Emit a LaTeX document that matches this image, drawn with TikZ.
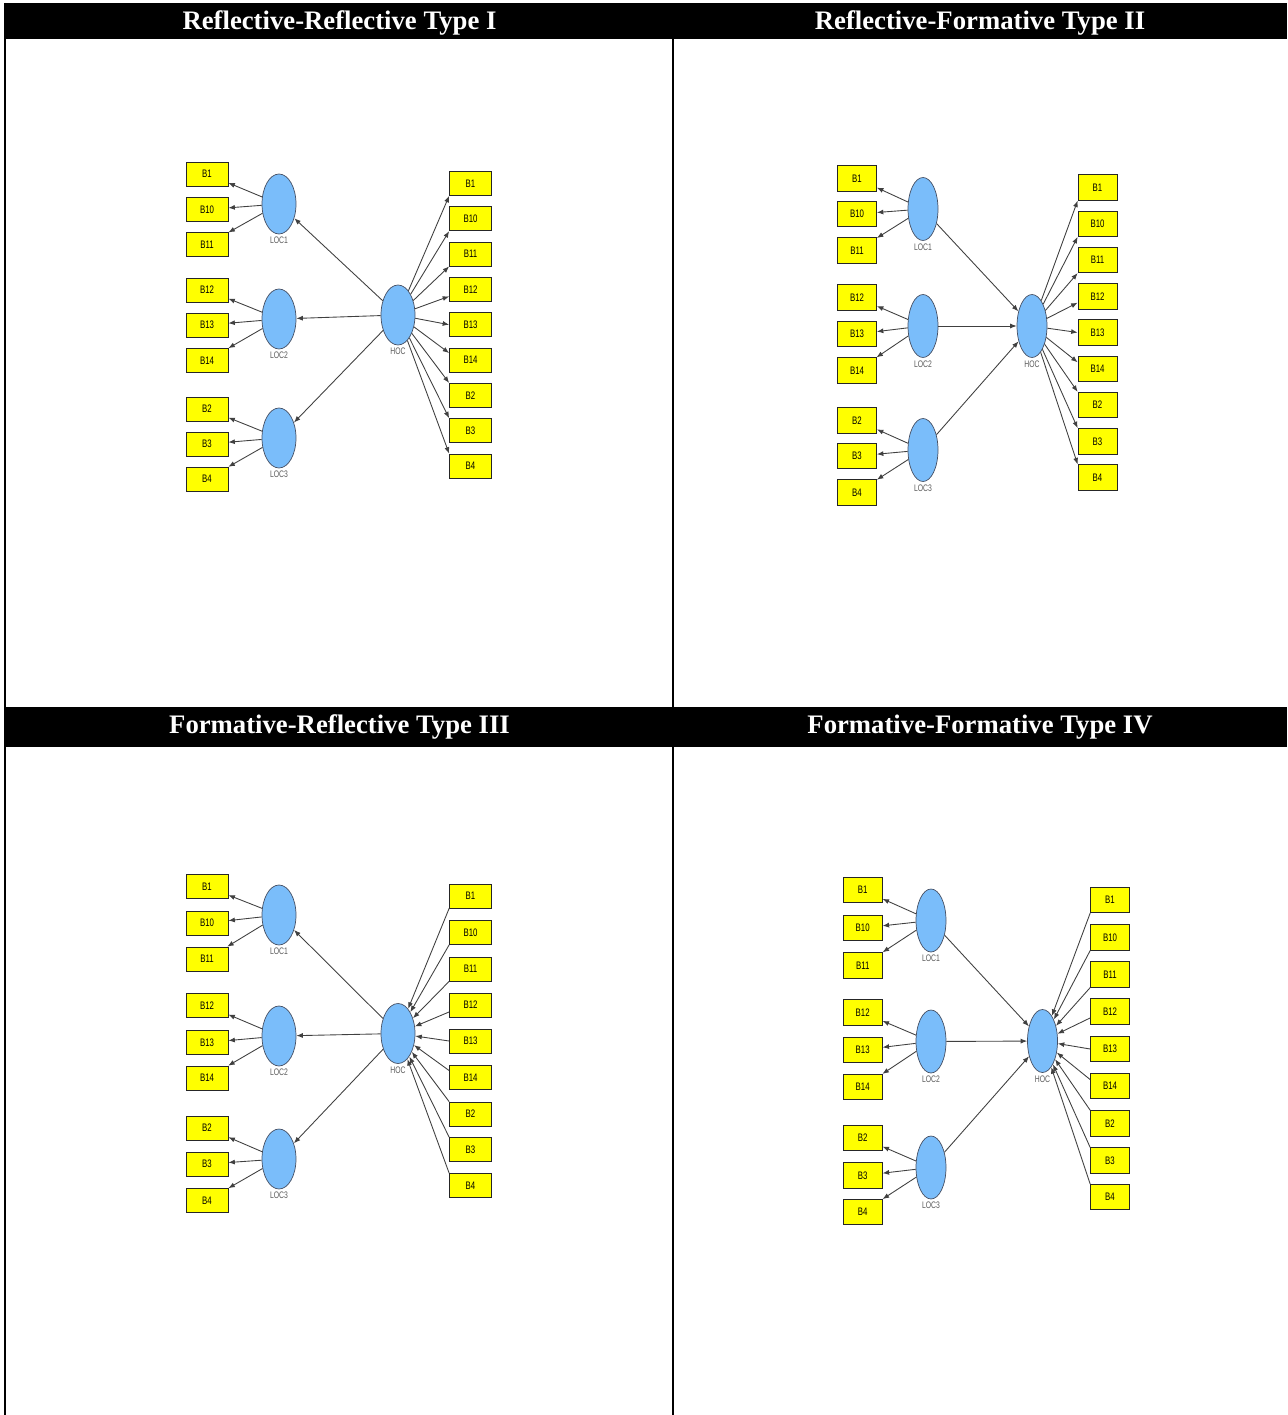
\documentclass[tikz,border=0pt]{standalone}
\usepackage{fontspec}
\setmainfont{Liberation Serif}
\newfontfamily\narrowsans[FakeStretch=0.72]{Liberation Sans}
\usepackage{xcolor}
\usetikzlibrary{arrows.meta,shapes.geometric,positioning}

\definecolor{indyellow}{RGB}{255,255,0}
\definecolor{lvblue}{RGB}{122,189,250}
\definecolor{lvedge}{RGB}{70,80,100}

\begin{document}
\begin{tikzpicture}[x=0.02cm,y=-0.02cm,>={Latex[length=1.3mm,width=1mm]},
  ttl/.style={text=white,font=\fontsize{15.2}{18}\selectfont\bfseries},
  ind/.style={draw=black!85,fill=indyellow,minimum width=0.84cm,minimum height=0.48cm,inner sep=0pt,font=\narrowsans\fontsize{6.2}{7}\selectfont},
  indb/.style={ind,minimum width=0.78cm,minimum height=0.51cm},
  lv/.style={ellipse,draw=lvedge,fill=lvblue,minimum width=0.68cm,minimum height=1.2cm,inner sep=0pt},
  lvb/.style={lv,minimum width=0.6cm,minimum height=1.26cm},
  lbl/.style={text=black!65,inner sep=1.5pt,font=\narrowsans\fontsize{5.4}{6}\selectfont},
  link/.style={->,draw=black!75,line width=0.5pt}]
  \useasboundingbox (0,0) rectangle (1287,1415);

  % frame and header bars
  \fill (4,3) rectangle (1287,39);
  \fill (4,707) rectangle (1287,747);
  \draw[line width=1.15pt] (5,3) -- (5,1415);
  \draw[line width=1.15pt] (673,39) -- (673,707);
  \draw[line width=1.15pt] (673,747) -- (673,1415);
  \node[ttl] (t1) at (339.5,23) {Reflective-Reflective Type I};
  \node[ttl] (t2) at (980,23) {Reflective-Formative Type II};
  \node[ttl] (t3) at (339.5,727) {Formative-Reflective Type III};
  \node[ttl] (t4) at (980,727) {Formative-Formative Type IV};

  % Type I
  \node[lv,label={[lbl]below:HOC}] (a-hoc) at (398,315) {};
  \foreach \i/\y in {1/204,2/319,3/438} {
    \node[lv,label={[lbl]below:LOC\i}] (a-loc\i) at (279,\y) {};
    \draw[link] (a-hoc) -- (a-loc\i);
  }
  \foreach \t/\y/\j [count=\i] in {B1/174/1,B10/209.5/1,B11/244.5/1,B12/290/2,B13/325/2,B14/360.5/2,B2/409/3,B3/444/3,B4/479/3} {
    \node[ind] (a-l\i) at (207,\y) {\t};
    \draw[link] (a-loc\j) -- (a-l\i);
  }
  \foreach \t/\y/\a [count=\i] in {B1/183.5/south west,B10/218.8/south west,B11/254.1/south west,B12/289.4/198,B13/324.7/180,B14/360/162,B2/395.3/north west,B3/430.6/north west,B4/466/north west} {
    \node[ind] (a-r\i) at (470.5,\y) {\t};
    \draw[link] (a-hoc) -- (a-r\i.\a);
  }

  % Type II
  \node[lvb,label={[lbl]below:HOC}] (b-hoc) at (1032,326) {};
  \foreach \i/\y in {1/209,2/326,3/450} {
    \node[lvb,label={[lbl]below:LOC\i}] (b-loc\i) at (923,\y) {};
    \draw[link] (b-loc\i) -- (b-hoc);
  }
  \foreach \t/\y/\j [count=\i] in {B1/178.5/1,B10/214/1,B11/250.5/1,B12/297.5/2,B13/334/2,B14/370.5/2,B2/420.5/3,B3/456/3,B4/492.5/3} {
    \node[indb] (b-l\i) at (857,\y) {\t};
    \draw[link] (b-loc\j) -- (b-l\i);
  }
  \foreach \t/\y/\a [count=\i] in {B1/187.5/south west,B10/223.75/south west,B11/260/south west,B12/296.25/198,B13/332.5/180,B14/368.75/162,B2/405/north west,B3/441.25/north west,B4/477.5/north west} {
    \node[indb] (b-r\i) at (1097.5,\y) {\t};
    \draw[link] (b-hoc) -- (b-r\i.\a);
  }

  % Type III
  \node[lv,label={[lbl]below:HOC}] (c-hoc) at (398,1033.5) {};
  \foreach \i/\y in {1/915,2/1036,3/1159} {
    \node[lv,label={[lbl]below:LOC\i}] (c-loc\i) at (279,\y) {};
    \draw[link] (c-hoc) -- (c-loc\i);
  }
  \foreach \t/\y/\j [count=\i] in {B1/886.7/1,B10/923/1,B11/959/1,B12/1005.5/2,B13/1042.5/2,B14/1078/2,B2/1128/3,B3/1164/3,B4/1200.5/3} {
    \node[ind] (c-l\i) at (207,\y) {\t};
    \draw[link] (c-loc\j) -- (c-l\i);
  }
  \foreach \t/\y/\a [count=\i] in {B1/896/south west,B10/932.5/south west,B11/969/south west,B12/1005/198,B13/1041/180,B14/1077.5/162,B2/1114/north west,B3/1149.5/north west,B4/1185.5/north west} {
    \node[ind] (c-r\i) at (470.5,\y) {\t};
    \draw[link] (c-r\i.\a) -- (c-hoc);
  }

  % Type IV
  \node[lvb,label={[lbl]below:HOC}] (d-hoc) at (1042.5,1041) {};
  \foreach \i/\y in {1/920.5,2/1041.5,3/1167.5} {
    \node[lvb,label={[lbl]below:LOC\i}] (d-loc\i) at (931,\y) {};
    \draw[link] (d-loc\i) -- (d-hoc);
  }
  \foreach \t/\y/\j [count=\i] in {B1/890/1,B10/928/1,B11/965.3/1,B12/1012.5/2,B13/1049.7/2,B14/1087/2,B2/1138/3,B3/1175.5/3,B4/1212/3} {
    \node[indb] (d-l\i) at (862.7,\y) {\t};
    \draw[link] (d-loc\j) -- (d-l\i);
  }
  \foreach \t/\y/\a [count=\i] in {B1/900/south west,B10/937.5/south west,B11/974.5/south west,B12/1011.5/198,B13/1049/180,B14/1086/162,B2/1123.3/north west,B3/1160.5/north west,B4/1197/north west} {
    \node[indb] (d-r\i) at (1110,\y) {\t};
    \draw[link] (d-r\i.\a) -- (d-hoc);
  }
\end{tikzpicture}
\end{document}
